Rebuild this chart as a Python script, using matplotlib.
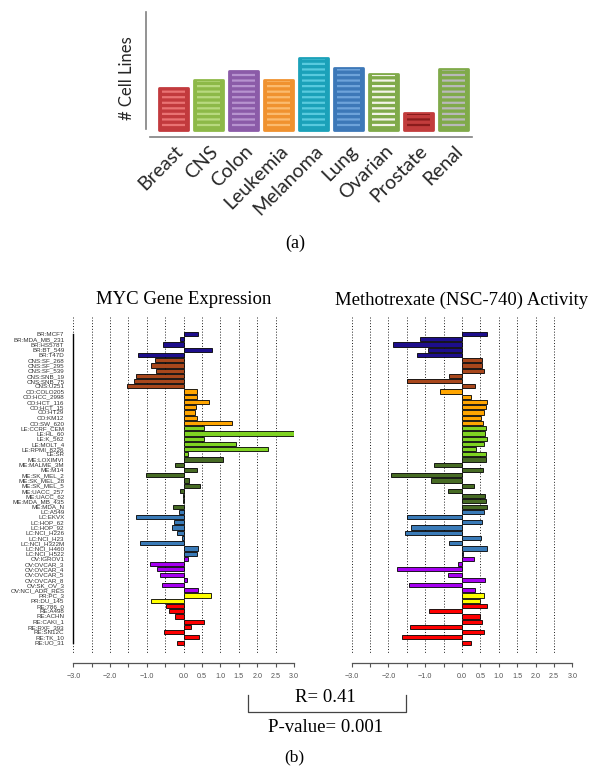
import numpy as np
import matplotlib.pyplot as plt
from matplotlib.transforms import ScaledTranslation

W, H = 590, 767

# ---- panel (a): cell lines per tissue (relative bar heights)
tissues = ['Breast', 'CNS', 'Colon', 'Leukemia', 'Melanoma', 'Lung', 'Ovarian', 'Prostate', 'Renal']
tissue_height = [41.7, 50, 59, 50, 72.3, 62.3, 55.7, 17.3, 61]
body_colors = ['#c23a3d', '#8db948', '#8b5ba8', '#f0922f', '#1ba1b9', '#3d78b8', '#80aa4a', '#c23c3c', '#80aa4a']
stripe_colors = ['#e97373', '#b8d97f', '#b793cf', '#fbbb6e', '#58cade', '#6ea3da', '#f3f3e8', '#8a1c1c', '#b9b9b9']

# ---- panel (b): NCI-60 cell lines
cell_lines = ['BR:MCF7', 'BR:MDA_MB_231', 'BR:HS578T', 'BR:BT_549', 'BR:T47D',
              'CNS:SF_268', 'CNS:SF_295', 'CNS:SF_539', 'CNS:SNB_19', 'CNS:SNB_75', 'CNS:U251',
              'CO:COLO205', 'CO:HCC_2998', 'CO:HCT_116', 'CO:HCT_15', 'CO:HT29', 'CO:KM12', 'CO:SW_620',
              'LE:CCRF_CEM', 'LE:HL_60', 'LE:K_562', 'LE:MOLT_4', 'LE:RPMI_8226', 'LE:SR',
              'ME:LOXIMVI', 'ME:MALME_3M', 'ME:M14', 'ME:SK_MEL_2', 'ME:SK_MEL_28', 'ME:SK_MEL_5',
              'ME:UACC_257', 'ME:UACC_62', 'ME:MDA_MB_435', 'ME:MDA_N',
              'LC:A549', 'LC:EKVX', 'LC:HOP_62', 'LC:HOP_92', 'LC:NCI_H226', 'LC:NCI_H23',
              'LC:NCI_H322M', 'LC:NCI_H460', 'LC:NCI_H522',
              'OV:IGROV1', 'OV:OVCAR_3', 'OV:OVCAR_4', 'OV:OVCAR_5', 'OV:OVCAR_8', 'OV:SK_OV_3', 'OV:NCI_ADR_RES',
              'PR:PC_3', 'PR:DU_145',
              'RE:786_0', 'RE:A498', 'RE:ACHN', 'RE:CAKI_1', 'RE:RXF_393', 'RE:SN12C', 'RE:TK_10', 'RE:UO_31']

myc_expr = [0.40, -0.09, -0.55, 0.78, -1.24,
            -0.78, -0.89, -0.75, -1.30, -1.34, -1.53,
            0.36, 0.35, 0.69, 0.34, 0.30, 0.36, 1.31,
            0.54, 3.00, 0.54, 1.43, 2.29, 0.11,
            1.07, -0.24, 0.37, -1.01, 0.15, 0.44, -0.10, -0.03, -0.01, -0.29,
            -0.13, -1.30, -0.27, -0.31, -0.18, -0.05, -1.19, 0.40, 0.36,
            0.12, -0.91, -0.72, -0.65, 0.10, -0.58, 0.38,
            0.74, -0.88,
            -0.47, -0.40, -0.23, 0.56, 0.19, -0.54, 0.43, -0.17]

mtx_activity = [0.69, -1.15, -1.88, -0.93, -1.23,
                0.53, 0.55, 0.60, -0.35, -1.49, 0.36,
                -0.59, 0.23, 0.68, 0.65, 0.61, 0.51, 0.58,
                0.66, 0.62, 0.69, 0.60, 0.38, 0.64,
                0.66, -0.75, 0.58, -1.93, -0.84, 0.32, -0.38, 0.63, 0.66, 0.68,
                0.60, -1.49, 0.53, -1.40, -1.55, 0.52, -0.35, 0.67, 0.02,
                0.32, -0.11, -1.78, -0.37, 0.63, -1.45, 0.36,
                0.59, 0.49,
                0.67, -0.90, 0.49, 0.53, -1.42, 0.60, -1.63, 0.23]

group_colors = {'BR': '#1d0e8c', 'CNS': '#a8471c', 'CO': '#ffa500', 'LE': '#7fd322',
                'ME': '#476b24', 'LC': '#3a7bb8', 'OV': '#a600f2', 'PR': '#ffff00', 'RE': '#ff0000'}

tick_vals = np.arange(-3, 3.01, 0.5)
tick_labels = ['\u22123.0', '', '\u22122.0', '', '\u22121.0', '', '0.0',
               '0.5', '1.0', '1.5', '2.0', '2.5', '3.0']


def fig_xy(x, y):
    return x / W, 1 - y / H


fig = plt.figure(figsize=(W / 100, H / 100), dpi=100)
plt.rcParams['hatch.linewidth'] = 1.6

# ---------------- (a)
axa = fig.add_axes([146 / W, 1 - 137 / H, 326 / W, 125 / H])
xa = np.arange(len(tissues))
axa.bar(xa, tissue_height, width=0.82, color=body_colors, edgecolor=body_colors,
        linewidth=2, joinstyle='round', zorder=2)
axa.bar(xa, [h - 2 for h in tissue_height], width=0.66, bottom=1, color='none',
        edgecolor=stripe_colors, linewidth=0, hatch='---', zorder=3)
axa.set_xlim(-0.794, 8.52)
axa.set_ylim(-7, 118)
for s in ['top', 'right']:
    axa.spines[s].set_visible(False)
axa.spines['left'].set_bounds(1, 118)
axa.spines['bottom'].set_bounds(-0.68, 8.52)
for s in ['left', 'bottom']:
    axa.spines[s].set_color('#808080')
    axa.spines[s].set_linewidth(1.2)
axa.set_yticks([])
axa.set_xticks(xa)
axa.set_xticklabels(tissues, rotation=45, ha='right', rotation_mode='anchor',
                    fontsize=14, family='Lato', color='#262626')
offset = ScaledTranslation(6 / 100, 0, fig.dpi_scale_trans)
for lab in axa.get_xticklabels():
    lab.set_transform(lab.get_transform() + offset)
axa.tick_params(axis='x', length=0, pad=4)
fig.text(*fig_xy(127, 78), '# Cell Lines', rotation=90, ha='center', va='center',
         fontsize=12, family='Lato', color='#262626')
fig.text(*fig_xy(295, 243), '(a)', ha='center', va='center', fontsize=13, family='Liberation Serif')

# ---------------- (b)
colors = [group_colors[c.split(':')[0]] for c in cell_lines]
rows = np.arange(len(cell_lines))


def bar_panel(left_px, values, title, show_names):
    ax = fig.add_axes([left_px / W, 1 - 663 / H, 220.7 / W, 346 / H])
    ax.vlines(tick_vals, -3.26, 60.96, colors='black', linestyles=(0, (1.2, 2.2)),
              linewidth=0.6, zorder=0)
    ax.barh(rows, values, height=0.8, color=colors, edgecolor='black', linewidth=0.6, zorder=2)
    ax.set_xlim(-3, 3)
    ax.set_ylim(62.9, -3.26)
    ax.set_xticks(tick_vals)
    ax.set_xticklabels(tick_labels, fontsize=5.2, family='Liberation Sans', color='#555555')
    ax.tick_params(axis='x', direction='out', length=3, width=0.8, color='#555555', pad=4)
    for s in ['top', 'right']:
        ax.spines[s].set_visible(False)
    ax.spines['bottom'].set_color('#555555')
    ax.spines['bottom'].set_linewidth(0.9)
    if show_names:
        ax.set_yticks(rows)
        ax.set_yticklabels(cell_lines, fontsize=4.5, family='Liberation Sans', color='#333333')
        ax.tick_params(axis='y', length=0, pad=6.5)
        ax.spines['left'].set_bounds(0, 59)
        ax.spines['left'].set_linewidth(1.0)
    else:
        ax.set_yticks([])
        ax.spines['left'].set_visible(False)
    cx = left_px + 110.35
    fig.text(*fig_xy(cx, 300), title, ha='center', va='center', fontsize=13.5,
             family='Liberation Serif')
    return ax


bar_panel(73.3, myc_expr, 'MYC Gene Expression', True)
bar_panel(351.7, mtx_activity, 'Methotrexate (NSC-740) Activity', False)

fig.text(*fig_xy(325, 697), 'R= 0.41', ha='center', va='center', fontsize=13.5,
         family='Liberation Serif')
fig.text(*fig_xy(326, 728), 'P-value= 0.001', ha='center', va='center', fontsize=13.5,
         family='Liberation Serif')
x0, y0 = fig_xy(248, 695)
x1, y1 = fig_xy(406, 712)
fig.add_artist(plt.Line2D([x0, x0, x1, x1], [y0, y1, y1, y0], color='#444444', linewidth=0.9))
fig.text(*fig_xy(294, 757), '(b)', ha='center', va='center', fontsize=12.5, family='Liberation Serif')

fig.savefig('out.png', dpi=100)
